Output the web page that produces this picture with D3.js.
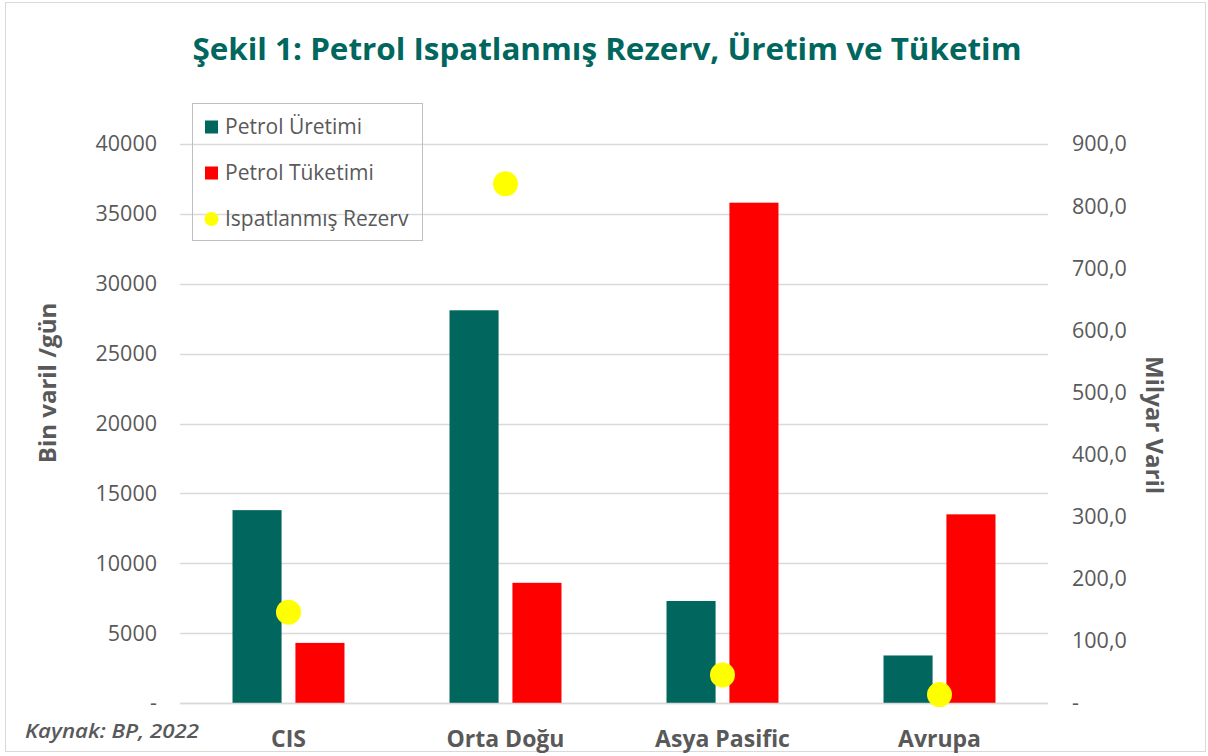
<!DOCTYPE html>
<html><head><meta charset="utf-8">
<script src="https://cdn.jsdelivr.net/npm/d3@7"></script>
<style>
html,body{margin:0;padding:0;background:#fff;}
svg{display:block;font-family:"Open Sans",sans-serif;}
</style></head>
<body>
<svg id="chart" width="1208" height="756"></svg>
<script>
const categories = ["CIS", "Orta Doğu", "Asya Pasific", "Avrupa"];
const uretim = [13800, 28100, 7300, 3400];     // Petrol Üretimi (bin varil/gün)
const tuketim = [4300, 8600, 35800, 13500];    // Petrol Tüketimi (bin varil/gün)
const rezerv = [146.2, 835.9, 45.2, 13.6];     // Ispatlanmış Rezerv (milyar varil)
const leftTicks = [0, 5000, 10000, 15000, 20000, 25000, 30000, 35000, 40000];
const rightTicks = [0, 100, 200, 300, 400, 500, 600, 700, 800, 900];
const seriesNames = ["Petrol Üretimi", "Petrol Tüketimi", "Ispatlanmış Rezerv"];

const colors = {teal: "#00665e", red: "#ff0000", yellow: "#ffff00", text: "#595959", grid: "#d9d9d9"};

const svg = d3.select("#chart");
const m = {left: 180, right: 1048, top: 144, bottom: 703};

// outer frame
svg.append("rect").attr("x", 5.5).attr("y", 2.5).attr("width", 1200).attr("height", 749)
  .attr("fill", "#fff").attr("stroke", "#d9d9d9").attr("stroke-width", 1);

const x0 = d3.scaleBand().domain(categories).range([m.left, m.right]).paddingInner(0.484).paddingOuter(0.242);
const x1 = d3.scaleBand().domain(["u", "t"]).range([0, x0.bandwidth()]).paddingInner(0.22).paddingOuter(0);
const yL = d3.scaleLinear().domain([0, 40000]).range([m.bottom, m.top]);
const yR = d3.scaleLinear().domain([0, 900]).range([m.bottom, m.top]);

// gridlines
svg.append("g").selectAll("line").data(leftTicks).join("line")
  .attr("x1", m.left).attr("x2", m.right)
  .attr("y1", d => Math.round(yL(d)) + 0.5).attr("y2", d => Math.round(yL(d)) + 0.5)
  .attr("stroke", colors.grid).attr("stroke-width", 1.3);

// left axis
const axL = svg.append("g").attr("transform", `translate(${m.left},0)`)
  .call(d3.axisLeft(yL).tickValues(leftTicks).tickSize(0).tickPadding(23)
    .tickFormat(d => d === 0 ? "-" : String(d)));
axL.select(".domain").remove();
axL.selectAll("text").attr("fill", colors.text).attr("font-size", 21.5).attr("font-family", "Open Sans");

// right axis
const axR = svg.append("g").attr("transform", `translate(${m.right},0)`)
  .call(d3.axisRight(yR).tickValues(rightTicks).tickSize(0).tickPadding(24)
    .tickFormat(d => d === 0 ? "-" : d3.format(".1f")(d).replace(".", ",")));
axR.select(".domain").remove();
axR.selectAll("text").attr("fill", colors.text).attr("font-size", 21.5).attr("font-family", "Open Sans");

// bars
const groups = svg.append("g").selectAll("g").data(categories).join("g")
  .attr("transform", d => `translate(${x0(d)},0)`);
groups.append("rect").attr("x", x1("u")).attr("width", x1.bandwidth())
  .attr("y", (d, i) => yL(uretim[i])).attr("height", (d, i) => yL(0) - yL(uretim[i]))
  .attr("fill", colors.teal);
groups.append("rect").attr("x", x1("t")).attr("width", x1.bandwidth())
  .attr("y", (d, i) => yL(tuketim[i])).attr("height", (d, i) => yL(0) - yL(tuketim[i]))
  .attr("fill", colors.red);

// baseline
svg.append("line").attr("x1", m.left).attr("x2", m.right)
  .attr("y1", Math.round(yL(0)) + 0.5).attr("y2", Math.round(yL(0)) + 0.5)
  .attr("stroke", colors.grid).attr("stroke-width", 1.3);

// reserve dots
svg.append("g").selectAll("circle").data(categories).join("circle")
  .attr("cx", d => x0(d) + x0.bandwidth() / 2)
  .attr("cy", (d, i) => yR(rezerv[i]))
  .attr("r", 12.5).attr("fill", colors.yellow);

// category labels
svg.append("g").selectAll("text").data(categories).join("text")
  .attr("x", d => x0(d) + x0.bandwidth() / 2).attr("y", 747)
  .attr("text-anchor", "middle").attr("font-weight", "bold").attr("font-size", 23)
  .attr("fill", colors.text).text(d => d);

// title
svg.append("text").attr("x", 607).attr("y", 60).attr("text-anchor", "middle")
  .attr("font-weight", "bold").attr("font-size", 31).attr("fill", colors.teal)
  .attr("textLength", 829).attr("lengthAdjust", "spacingAndGlyphs")
  .text("Şekil 1: Petrol Ispatlanmış Rezerv, Üretim ve Tüketim");

// axis titles
svg.append("text").attr("transform", "translate(56,383) rotate(-90)")
  .attr("text-anchor", "middle").attr("font-weight", "bold").attr("font-size", 24)
  .attr("fill", colors.text).text("Bin varil /gün");
svg.append("text").attr("transform", "translate(1146,425) rotate(90)")
  .attr("text-anchor", "middle").attr("font-weight", "bold").attr("font-size", 24)
  .attr("fill", colors.text).text("Milyar Varil");

// source
svg.append("text").attr("x", 25).attr("y", 738).attr("font-style", "italic")
  .attr("font-size", 20).attr("fill", colors.text).attr("font-weight", "600")
  .attr("textLength", 174).attr("lengthAdjust", "spacingAndGlyphs")
  .text("Kaynak: BP, 2022");

// legend
const lg = svg.append("g");
lg.append("rect").attr("x", 192.5).attr("y", 103.5).attr("width", 230).attr("height", 137)
  .attr("fill", "none").attr("stroke", "#bfbfbf").attr("stroke-width", 1);
const rows = [127, 173, 219];
lg.append("rect").attr("x", 205).attr("y", rows[0] - 6.5).attr("width", 13).attr("height", 13).attr("fill", colors.teal);
lg.append("rect").attr("x", 205).attr("y", rows[1] - 6.5).attr("width", 13).attr("height", 13).attr("fill", colors.red);
lg.append("circle").attr("cx", 211.5).attr("cy", rows[2]).attr("r", 7).attr("fill", colors.yellow);
lg.selectAll("text.l").data(seriesNames).join("text").attr("class", "l")
  .attr("x", 225).attr("y", (d, i) => rows[i]).attr("dy", "0.35em")
  .attr("font-size", 21).attr("fill", colors.text).text(d => d);
</script>
</body></html>
